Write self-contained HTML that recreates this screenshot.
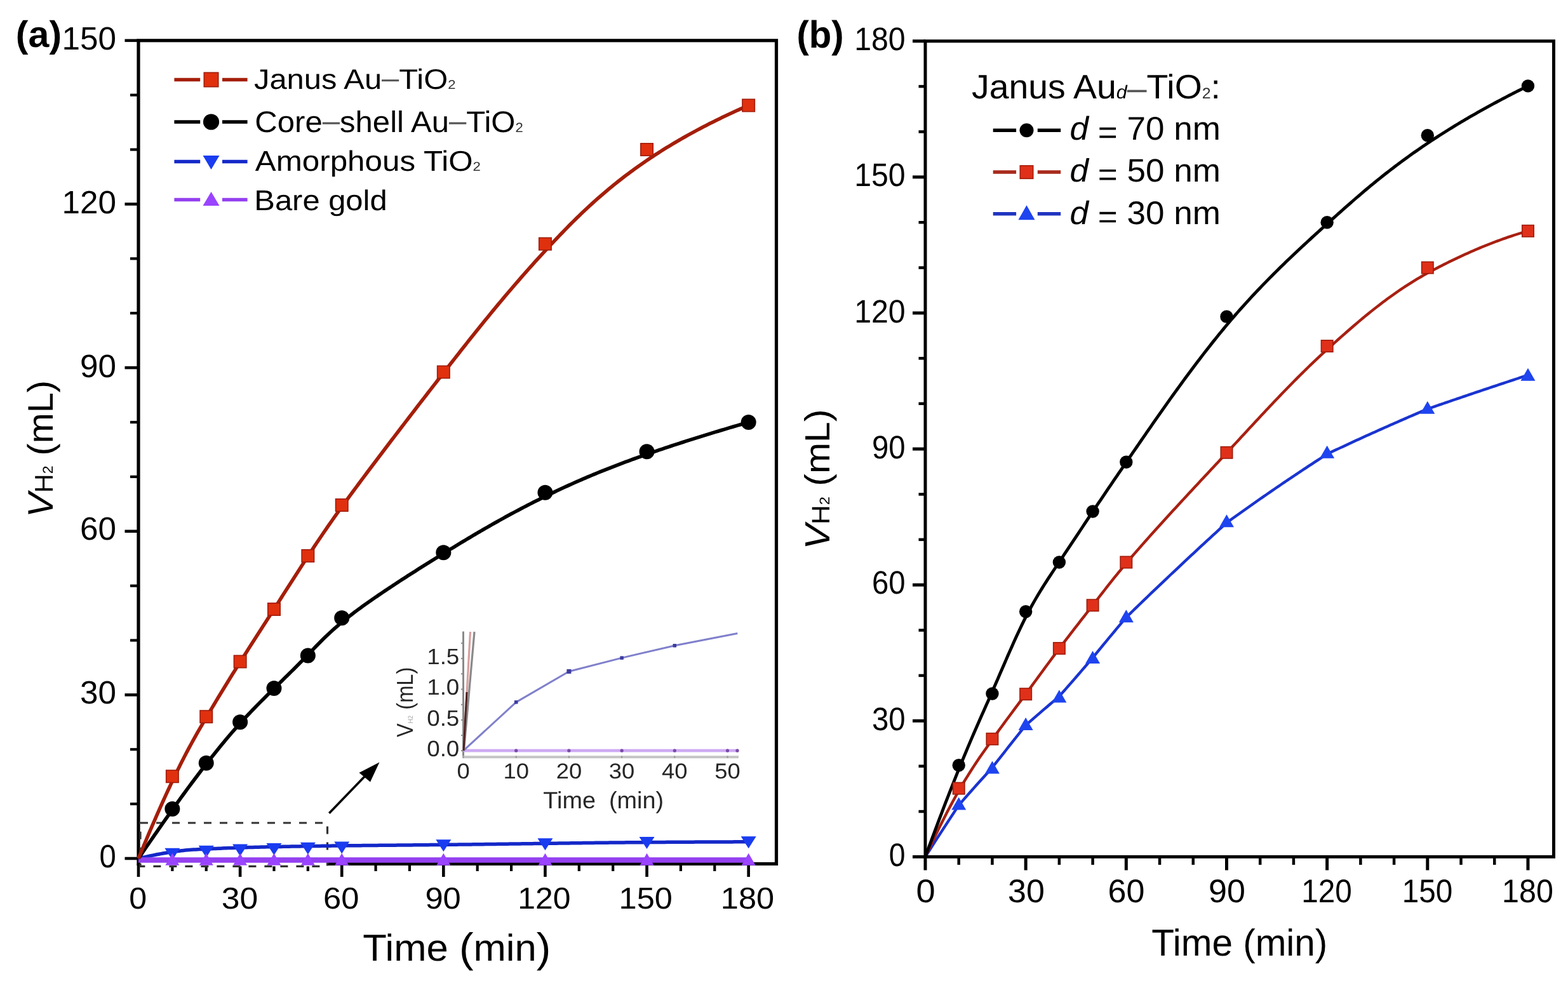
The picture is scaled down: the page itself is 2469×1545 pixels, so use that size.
<!DOCTYPE html>
<html><head><meta charset="utf-8"><title>Hydrogen evolution: Janus Au-TiO2</title>
<style>
html,body{margin:0;padding:0;background:#fff;}
body{width:2469px;height:1545px;overflow:hidden;}
svg{display:block;font-family:'Liberation Sans', Arial, Helvetica, sans-serif;text-rendering:geometricPrecision;}
</style></head><body>
<svg width="2469" height="1545" viewBox="0 0 2469 1545">
<rect width="100%" height="100%" fill="#fff"/>
<rect x="218" y="63.8" width="1004.5" height="1296.7" fill="none" stroke="#000" stroke-width="5.2"/>
<line x1="196.5" y1="1352" x2="218" y2="1352" stroke="#000" stroke-width="4.6"/>
<line x1="205" y1="1266.12" x2="218" y2="1266.12" stroke="#000" stroke-width="4.2"/>
<line x1="205" y1="1180.24" x2="218" y2="1180.24" stroke="#000" stroke-width="4.2"/>
<line x1="196.5" y1="1094.36" x2="218" y2="1094.36" stroke="#000" stroke-width="4.6"/>
<line x1="205" y1="1008.48" x2="218" y2="1008.48" stroke="#000" stroke-width="4.2"/>
<line x1="205" y1="922.6" x2="218" y2="922.6" stroke="#000" stroke-width="4.2"/>
<line x1="196.5" y1="836.72" x2="218" y2="836.72" stroke="#000" stroke-width="4.6"/>
<line x1="205" y1="750.84" x2="218" y2="750.84" stroke="#000" stroke-width="4.2"/>
<line x1="205" y1="664.96" x2="218" y2="664.96" stroke="#000" stroke-width="4.2"/>
<line x1="196.5" y1="579.08" x2="218" y2="579.08" stroke="#000" stroke-width="4.6"/>
<line x1="205" y1="493.2" x2="218" y2="493.2" stroke="#000" stroke-width="4.2"/>
<line x1="205" y1="407.32" x2="218" y2="407.32" stroke="#000" stroke-width="4.2"/>
<line x1="196.5" y1="321.44" x2="218" y2="321.44" stroke="#000" stroke-width="4.6"/>
<line x1="205" y1="235.56" x2="218" y2="235.56" stroke="#000" stroke-width="4.2"/>
<line x1="205" y1="149.68" x2="218" y2="149.68" stroke="#000" stroke-width="4.2"/>
<line x1="196.5" y1="63.8" x2="218" y2="63.8" stroke="#000" stroke-width="4.6"/>
<line x1="218" y1="1360.5" x2="218" y2="1381" stroke="#000" stroke-width="4.6"/>
<line x1="271.37" y1="1360.5" x2="271.37" y2="1372" stroke="#000" stroke-width="4.2"/>
<line x1="324.74" y1="1360.5" x2="324.74" y2="1372" stroke="#000" stroke-width="4.2"/>
<line x1="378.11" y1="1360.5" x2="378.11" y2="1381" stroke="#000" stroke-width="4.6"/>
<line x1="431.48" y1="1360.5" x2="431.48" y2="1372" stroke="#000" stroke-width="4.2"/>
<line x1="484.85" y1="1360.5" x2="484.85" y2="1372" stroke="#000" stroke-width="4.2"/>
<line x1="538.22" y1="1360.5" x2="538.22" y2="1381" stroke="#000" stroke-width="4.6"/>
<line x1="591.59" y1="1360.5" x2="591.59" y2="1372" stroke="#000" stroke-width="4.2"/>
<line x1="644.96" y1="1360.5" x2="644.96" y2="1372" stroke="#000" stroke-width="4.2"/>
<line x1="698.33" y1="1360.5" x2="698.33" y2="1381" stroke="#000" stroke-width="4.6"/>
<line x1="751.7" y1="1360.5" x2="751.7" y2="1372" stroke="#000" stroke-width="4.2"/>
<line x1="805.07" y1="1360.5" x2="805.07" y2="1372" stroke="#000" stroke-width="4.2"/>
<line x1="858.44" y1="1360.5" x2="858.44" y2="1381" stroke="#000" stroke-width="4.6"/>
<line x1="911.81" y1="1360.5" x2="911.81" y2="1372" stroke="#000" stroke-width="4.2"/>
<line x1="965.18" y1="1360.5" x2="965.18" y2="1372" stroke="#000" stroke-width="4.2"/>
<line x1="1018.55" y1="1360.5" x2="1018.55" y2="1381" stroke="#000" stroke-width="4.6"/>
<line x1="1071.92" y1="1360.5" x2="1071.92" y2="1372" stroke="#000" stroke-width="4.2"/>
<line x1="1125.29" y1="1360.5" x2="1125.29" y2="1372" stroke="#000" stroke-width="4.2"/>
<line x1="1178.66" y1="1360.5" x2="1178.66" y2="1381" stroke="#000" stroke-width="4.6"/>
<rect x="221" y="1296" width="294.5" height="68.4" fill="#fff" stroke="#333" stroke-width="3.2" stroke-dasharray="12 13"/>
<path d="M218,1352 L221.21,1351.26 L224.43,1350.53 L227.64,1349.81 L230.85,1349.1 L234.06,1348.41 L237.28,1347.73 L240.49,1347.07 L243.7,1346.43 L246.92,1345.8 L250.13,1345.18 L253.34,1344.59 L256.55,1344.01 L259.77,1343.46 L262.98,1342.92 L266.19,1342.4 L269.41,1341.91 L272.62,1341.43 L275.83,1340.98 L279.05,1340.56 L282.26,1340.16 L285.47,1339.78 L288.68,1339.43 L291.9,1339.11 L295.11,1338.81 L298.32,1338.54 L301.54,1338.3 L304.75,1338.07 L307.96,1337.88 L311.17,1337.7 L314.39,1337.53 L317.6,1337.38 L320.81,1337.23 L324.03,1337.09 L327.24,1336.95 L330.45,1336.81 L333.66,1336.67 L336.88,1336.53 L340.09,1336.39 L343.3,1336.26 L346.52,1336.13 L349.73,1336 L352.94,1335.87 L356.16,1335.74 L359.37,1335.62 L362.58,1335.5 L365.79,1335.39 L369.01,1335.27 L372.22,1335.16 L375.43,1335.05 L378.65,1334.95 L381.86,1334.85 L385.07,1334.75 L388.28,1334.65 L391.5,1334.56 L394.71,1334.47 L397.92,1334.39 L401.14,1334.3 L404.35,1334.22 L407.56,1334.14 L410.77,1334.06 L413.99,1333.98 L417.2,1333.91 L420.41,1333.84 L423.63,1333.77 L426.84,1333.7 L430.05,1333.64 L433.26,1333.57 L436.48,1333.51 L439.69,1333.45 L442.9,1333.39 L446.12,1333.33 L449.33,1333.27 L452.54,1333.21 L455.76,1333.16 L458.97,1333.1 L462.18,1333.05 L465.39,1332.99 L468.61,1332.94 L471.82,1332.89 L475.03,1332.84 L478.25,1332.78 L481.46,1332.73 L484.67,1332.68 L487.88,1332.63 L491.1,1332.58 L494.31,1332.53 L497.52,1332.48 L500.74,1332.43 L503.95,1332.38 L507.16,1332.33 L510.37,1332.29 L513.59,1332.24 L516.8,1332.2 L520.01,1332.16 L523.23,1332.11 L526.44,1332.07 L529.65,1332.04 L532.87,1332 L536.08,1331.96 L539.29,1331.92 L542.5,1331.89 L545.72,1331.85 L548.93,1331.82 L552.14,1331.79 L555.36,1331.75 L558.57,1331.72 L561.78,1331.69 L564.99,1331.66 L568.21,1331.63 L571.42,1331.6 L574.63,1331.57 L577.85,1331.54 L581.06,1331.51 L584.27,1331.48 L587.48,1331.45 L590.7,1331.42 L593.91,1331.39 L597.12,1331.36 L600.34,1331.33 L603.55,1331.3 L606.76,1331.27 L609.97,1331.24 L613.19,1331.21 L616.4,1331.18 L619.61,1331.16 L622.83,1331.13 L626.04,1331.1 L629.25,1331.07 L632.47,1331.04 L635.68,1331.01 L638.89,1330.98 L642.1,1330.95 L645.32,1330.92 L648.53,1330.89 L651.74,1330.86 L654.96,1330.83 L658.17,1330.79 L661.38,1330.76 L664.59,1330.73 L667.81,1330.7 L671.02,1330.67 L674.23,1330.64 L677.45,1330.6 L680.66,1330.57 L683.87,1330.54 L687.08,1330.51 L690.3,1330.47 L693.51,1330.44 L696.72,1330.4 L699.94,1330.37 L703.15,1330.33 L706.36,1330.3 L709.58,1330.26 L712.79,1330.23 L716,1330.19 L719.21,1330.16 L722.43,1330.12 L725.64,1330.08 L728.85,1330.04 L732.07,1330.01 L735.28,1329.97 L738.49,1329.93 L741.7,1329.89 L744.92,1329.85 L748.13,1329.81 L751.34,1329.78 L754.56,1329.74 L757.77,1329.7 L760.98,1329.66 L764.19,1329.62 L767.41,1329.58 L770.62,1329.54 L773.83,1329.5 L777.05,1329.45 L780.26,1329.41 L783.47,1329.37 L786.69,1329.33 L789.9,1329.29 L793.11,1329.25 L796.32,1329.21 L799.54,1329.16 L802.75,1329.12 L805.96,1329.08 L809.18,1329.04 L812.39,1329 L815.6,1328.95 L818.81,1328.91 L822.03,1328.87 L825.24,1328.83 L828.45,1328.78 L831.67,1328.74 L834.88,1328.7 L838.09,1328.66 L841.3,1328.61 L844.52,1328.57 L847.73,1328.53 L850.94,1328.48 L854.16,1328.44 L857.37,1328.4 L860.58,1328.35 L863.79,1328.31 L867.01,1328.27 L870.22,1328.23 L873.43,1328.18 L876.65,1328.14 L879.86,1328.1 L883.07,1328.05 L886.29,1328.01 L889.5,1327.97 L892.71,1327.93 L895.92,1327.88 L899.14,1327.84 L902.35,1327.8 L905.56,1327.76 L908.78,1327.72 L911.99,1327.68 L915.2,1327.64 L918.41,1327.6 L921.63,1327.56 L924.84,1327.52 L928.05,1327.48 L931.27,1327.44 L934.48,1327.4 L937.69,1327.37 L940.9,1327.33 L944.12,1327.29 L947.33,1327.26 L950.54,1327.22 L953.76,1327.19 L956.97,1327.16 L960.18,1327.12 L963.4,1327.09 L966.61,1327.06 L969.82,1327.02 L973.03,1326.99 L976.25,1326.96 L979.46,1326.93 L982.67,1326.9 L985.89,1326.87 L989.1,1326.84 L992.31,1326.81 L995.52,1326.78 L998.74,1326.76 L1001.95,1326.73 L1005.16,1326.7 L1008.38,1326.68 L1011.59,1326.65 L1014.8,1326.62 L1018.01,1326.6 L1021.23,1326.57 L1024.44,1326.55 L1027.65,1326.53 L1030.87,1326.5 L1034.08,1326.48 L1037.29,1326.46 L1040.5,1326.44 L1043.72,1326.41 L1046.93,1326.39 L1050.14,1326.37 L1053.36,1326.35 L1056.57,1326.33 L1059.78,1326.31 L1063,1326.29 L1066.21,1326.27 L1069.42,1326.25 L1072.63,1326.24 L1075.85,1326.22 L1079.06,1326.2 L1082.27,1326.18 L1085.49,1326.17 L1088.7,1326.15 L1091.91,1326.13 L1095.12,1326.12 L1098.34,1326.1 L1101.55,1326.09 L1104.76,1326.07 L1107.98,1326.06 L1111.19,1326.04 L1114.4,1326.03 L1117.61,1326.02 L1120.83,1326 L1124.04,1325.99 L1127.25,1325.98 L1130.47,1325.96 L1133.68,1325.95 L1136.89,1325.94 L1140.11,1325.93 L1143.32,1325.92 L1146.53,1325.9 L1149.74,1325.89 L1152.96,1325.88 L1156.17,1325.87 L1159.38,1325.86 L1162.6,1325.85 L1165.81,1325.84 L1169.02,1325.83 L1172.23,1325.82 L1175.45,1325.82 L1178.66,1325.81" fill="none" stroke="#1428c8" stroke-width="5.5" stroke-linejoin="round"/>
<polygon points="259.37,1335.8 283.37,1335.8 271.37,1354.8" fill="#1a3cf0"/>
<polygon points="312.74,1331.68 336.74,1331.68 324.74,1350.68" fill="#1a3cf0"/>
<polygon points="366.11,1329.62 390.11,1329.62 378.11,1348.62" fill="#1a3cf0"/>
<polygon points="419.48,1327.9 443.48,1327.9 431.48,1346.9" fill="#1a3cf0"/>
<polygon points="472.85,1326.87 496.85,1326.87 484.85,1345.87" fill="#1a3cf0"/>
<polygon points="526.22,1325.5 550.22,1325.5 538.22,1344.5" fill="#1a3cf0"/>
<polygon points="686.33,1322.32 710.33,1322.32 698.33,1341.32" fill="#1a3cf0"/>
<polygon points="846.44,1320.17 870.44,1320.17 858.44,1339.17" fill="#1a3cf0"/>
<polygon points="1006.55,1318.02 1030.55,1318.02 1018.55,1337.02" fill="#1a3cf0"/>
<polygon points="1166.66,1317.17 1190.66,1317.17 1178.66,1336.17" fill="#1a3cf0"/>
<path d="M218,1354.58 L221.21,1354.58 L224.43,1354.58 L227.64,1354.58 L230.85,1354.58 L234.06,1354.58 L237.28,1354.58 L240.49,1354.58 L243.7,1354.58 L246.92,1354.58 L250.13,1354.58 L253.34,1354.58 L256.55,1354.58 L259.77,1354.58 L262.98,1354.58 L266.19,1354.58 L269.41,1354.58 L272.62,1354.58 L275.83,1354.58 L279.05,1354.58 L282.26,1354.58 L285.47,1354.58 L288.68,1354.58 L291.9,1354.58 L295.11,1354.58 L298.32,1354.58 L301.54,1354.58 L304.75,1354.58 L307.96,1354.58 L311.17,1354.58 L314.39,1354.58 L317.6,1354.58 L320.81,1354.58 L324.03,1354.58 L327.24,1354.58 L330.45,1354.58 L333.66,1354.58 L336.88,1354.58 L340.09,1354.58 L343.3,1354.58 L346.52,1354.58 L349.73,1354.58 L352.94,1354.58 L356.16,1354.58 L359.37,1354.58 L362.58,1354.58 L365.79,1354.58 L369.01,1354.58 L372.22,1354.58 L375.43,1354.58 L378.65,1354.58 L381.86,1354.58 L385.07,1354.58 L388.28,1354.58 L391.5,1354.58 L394.71,1354.58 L397.92,1354.58 L401.14,1354.58 L404.35,1354.58 L407.56,1354.58 L410.77,1354.58 L413.99,1354.58 L417.2,1354.58 L420.41,1354.58 L423.63,1354.58 L426.84,1354.58 L430.05,1354.58 L433.26,1354.58 L436.48,1354.58 L439.69,1354.58 L442.9,1354.58 L446.12,1354.58 L449.33,1354.58 L452.54,1354.58 L455.76,1354.58 L458.97,1354.58 L462.18,1354.58 L465.39,1354.58 L468.61,1354.58 L471.82,1354.58 L475.03,1354.58 L478.25,1354.58 L481.46,1354.58 L484.67,1354.58 L487.88,1354.58 L491.1,1354.58 L494.31,1354.58 L497.52,1354.58 L500.74,1354.58 L503.95,1354.58 L507.16,1354.58 L510.37,1354.58 L513.59,1354.58 L516.8,1354.58 L520.01,1354.58 L523.23,1354.58 L526.44,1354.58 L529.65,1354.58 L532.87,1354.58 L536.08,1354.58 L539.29,1354.58 L542.5,1354.58 L545.72,1354.58 L548.93,1354.58 L552.14,1354.58 L555.36,1354.58 L558.57,1354.58 L561.78,1354.58 L564.99,1354.58 L568.21,1354.58 L571.42,1354.58 L574.63,1354.58 L577.85,1354.58 L581.06,1354.58 L584.27,1354.58 L587.48,1354.58 L590.7,1354.58 L593.91,1354.58 L597.12,1354.58 L600.34,1354.58 L603.55,1354.58 L606.76,1354.58 L609.97,1354.58 L613.19,1354.58 L616.4,1354.58 L619.61,1354.58 L622.83,1354.58 L626.04,1354.58 L629.25,1354.58 L632.47,1354.58 L635.68,1354.58 L638.89,1354.58 L642.1,1354.58 L645.32,1354.58 L648.53,1354.58 L651.74,1354.58 L654.96,1354.58 L658.17,1354.58 L661.38,1354.58 L664.59,1354.58 L667.81,1354.58 L671.02,1354.58 L674.23,1354.58 L677.45,1354.58 L680.66,1354.58 L683.87,1354.58 L687.08,1354.58 L690.3,1354.58 L693.51,1354.58 L696.72,1354.58 L699.94,1354.58 L703.15,1354.58 L706.36,1354.58 L709.58,1354.58 L712.79,1354.58 L716,1354.58 L719.21,1354.58 L722.43,1354.58 L725.64,1354.58 L728.85,1354.58 L732.07,1354.58 L735.28,1354.58 L738.49,1354.58 L741.7,1354.58 L744.92,1354.58 L748.13,1354.58 L751.34,1354.58 L754.56,1354.58 L757.77,1354.58 L760.98,1354.58 L764.19,1354.58 L767.41,1354.58 L770.62,1354.58 L773.83,1354.58 L777.05,1354.58 L780.26,1354.58 L783.47,1354.58 L786.69,1354.58 L789.9,1354.58 L793.11,1354.58 L796.32,1354.58 L799.54,1354.58 L802.75,1354.58 L805.96,1354.58 L809.18,1354.58 L812.39,1354.58 L815.6,1354.58 L818.81,1354.58 L822.03,1354.58 L825.24,1354.58 L828.45,1354.58 L831.67,1354.58 L834.88,1354.58 L838.09,1354.58 L841.3,1354.58 L844.52,1354.58 L847.73,1354.58 L850.94,1354.58 L854.16,1354.58 L857.37,1354.58 L860.58,1354.58 L863.79,1354.58 L867.01,1354.58 L870.22,1354.58 L873.43,1354.58 L876.65,1354.58 L879.86,1354.58 L883.07,1354.58 L886.29,1354.58 L889.5,1354.58 L892.71,1354.58 L895.92,1354.58 L899.14,1354.58 L902.35,1354.58 L905.56,1354.58 L908.78,1354.58 L911.99,1354.58 L915.2,1354.58 L918.41,1354.58 L921.63,1354.58 L924.84,1354.58 L928.05,1354.58 L931.27,1354.58 L934.48,1354.58 L937.69,1354.58 L940.9,1354.58 L944.12,1354.58 L947.33,1354.58 L950.54,1354.58 L953.76,1354.58 L956.97,1354.58 L960.18,1354.58 L963.4,1354.58 L966.61,1354.58 L969.82,1354.58 L973.03,1354.58 L976.25,1354.58 L979.46,1354.58 L982.67,1354.58 L985.89,1354.58 L989.1,1354.58 L992.31,1354.58 L995.52,1354.58 L998.74,1354.58 L1001.95,1354.58 L1005.16,1354.58 L1008.38,1354.58 L1011.59,1354.58 L1014.8,1354.58 L1018.01,1354.58 L1021.23,1354.58 L1024.44,1354.58 L1027.65,1354.58 L1030.87,1354.58 L1034.08,1354.58 L1037.29,1354.58 L1040.5,1354.58 L1043.72,1354.58 L1046.93,1354.58 L1050.14,1354.58 L1053.36,1354.58 L1056.57,1354.58 L1059.78,1354.58 L1063,1354.58 L1066.21,1354.58 L1069.42,1354.58 L1072.63,1354.58 L1075.85,1354.58 L1079.06,1354.58 L1082.27,1354.58 L1085.49,1354.58 L1088.7,1354.58 L1091.91,1354.58 L1095.12,1354.58 L1098.34,1354.58 L1101.55,1354.58 L1104.76,1354.58 L1107.98,1354.58 L1111.19,1354.58 L1114.4,1354.58 L1117.61,1354.58 L1120.83,1354.58 L1124.04,1354.58 L1127.25,1354.58 L1130.47,1354.58 L1133.68,1354.58 L1136.89,1354.58 L1140.11,1354.58 L1143.32,1354.58 L1146.53,1354.58 L1149.74,1354.58 L1152.96,1354.58 L1156.17,1354.58 L1159.38,1354.58 L1162.6,1354.58 L1165.81,1354.58 L1169.02,1354.58 L1172.23,1354.58 L1175.45,1354.58 L1178.66,1354.58" fill="none" stroke="#9440f0" stroke-width="8.5" stroke-linejoin="round"/>
<polygon points="260.37,1362.7 282.37,1362.7 271.37,1343.7" fill="#9a44ff"/>
<polygon points="313.74,1362.7 335.74,1362.7 324.74,1343.7" fill="#9a44ff"/>
<polygon points="367.11,1362.7 389.11,1362.7 378.11,1343.7" fill="#9a44ff"/>
<polygon points="420.48,1362.7 442.48,1362.7 431.48,1343.7" fill="#9a44ff"/>
<polygon points="473.85,1362.7 495.85,1362.7 484.85,1343.7" fill="#9a44ff"/>
<polygon points="527.22,1362.7 549.22,1362.7 538.22,1343.7" fill="#9a44ff"/>
<polygon points="687.33,1362.7 709.33,1362.7 698.33,1343.7" fill="#9a44ff"/>
<polygon points="847.44,1362.7 869.44,1362.7 858.44,1343.7" fill="#9a44ff"/>
<polygon points="1007.55,1362.7 1029.55,1362.7 1018.55,1343.7" fill="#9a44ff"/>
<polygon points="1167.66,1362.7 1189.66,1362.7 1178.66,1343.7" fill="#9a44ff"/>
<path d="M218,1352 L221.21,1347.31 L224.43,1342.63 L227.64,1337.95 L230.85,1333.28 L234.06,1328.62 L237.28,1323.97 L240.49,1319.33 L243.7,1314.69 L246.92,1310.07 L250.13,1305.46 L253.34,1300.86 L256.55,1296.27 L259.77,1291.7 L262.98,1287.14 L266.19,1282.59 L269.41,1278.06 L272.62,1273.54 L275.83,1269.04 L279.05,1264.56 L282.26,1260.1 L285.47,1255.65 L288.68,1251.23 L291.9,1246.83 L295.11,1242.46 L298.32,1238.11 L301.54,1233.78 L304.75,1229.48 L307.96,1225.21 L311.17,1220.96 L314.39,1216.74 L317.6,1212.55 L320.81,1208.38 L324.03,1204.23 L327.24,1200.11 L330.45,1196.01 L333.66,1191.94 L336.88,1187.89 L340.09,1183.88 L343.3,1179.9 L346.52,1175.95 L349.73,1172.04 L352.94,1168.16 L356.16,1164.32 L359.37,1160.52 L362.58,1156.76 L365.79,1153.04 L369.01,1149.36 L372.22,1145.72 L375.43,1142.13 L378.65,1138.57 L381.86,1135.06 L385.07,1131.58 L388.28,1128.14 L391.5,1124.73 L394.71,1121.36 L397.92,1118.01 L401.14,1114.69 L404.35,1111.4 L407.56,1108.13 L410.77,1104.89 L413.99,1101.66 L417.2,1098.45 L420.41,1095.25 L423.63,1092.07 L426.84,1088.9 L430.05,1085.74 L433.26,1082.59 L436.48,1079.44 L439.69,1076.3 L442.9,1073.15 L446.12,1070.01 L449.33,1066.86 L452.54,1063.7 L455.76,1060.54 L458.97,1057.37 L462.18,1054.19 L465.39,1050.99 L468.61,1047.78 L471.82,1044.55 L475.03,1041.31 L478.25,1038.04 L481.46,1034.74 L484.67,1031.42 L487.88,1028.08 L491.1,1024.72 L494.31,1021.37 L497.52,1018.03 L500.74,1014.73 L503.95,1011.47 L507.16,1008.25 L510.37,1005.09 L513.59,1001.99 L516.8,998.94 L520.01,995.96 L523.23,993.03 L526.44,990.16 L529.65,987.34 L532.87,984.57 L536.08,981.86 L539.29,979.19 L542.5,976.56 L545.72,973.98 L548.93,971.44 L552.14,968.93 L555.36,966.47 L558.57,964.03 L561.78,961.63 L564.99,959.26 L568.21,956.91 L571.42,954.58 L574.63,952.28 L577.85,950 L581.06,947.73 L584.27,945.48 L587.48,943.25 L590.7,941.03 L593.91,938.82 L597.12,936.63 L600.34,934.45 L603.55,932.28 L606.76,930.12 L609.97,927.97 L613.19,925.84 L616.4,923.71 L619.61,921.59 L622.83,919.48 L626.04,917.38 L629.25,915.28 L632.47,913.19 L635.68,911.11 L638.89,909.04 L642.1,906.97 L645.32,904.91 L648.53,902.86 L651.74,900.81 L654.96,898.77 L658.17,896.73 L661.38,894.7 L664.59,892.67 L667.81,890.65 L671.02,888.63 L674.23,886.61 L677.45,884.6 L680.66,882.6 L683.87,880.6 L687.08,878.6 L690.3,876.61 L693.51,874.62 L696.72,872.64 L699.94,870.65 L703.15,868.68 L706.36,866.7 L709.58,864.73 L712.79,862.77 L716,860.81 L719.21,858.85 L722.43,856.9 L725.64,854.95 L728.85,853.02 L732.07,851.08 L735.28,849.16 L738.49,847.24 L741.7,845.33 L744.92,843.42 L748.13,841.52 L751.34,839.63 L754.56,837.75 L757.77,835.88 L760.98,834.01 L764.19,832.15 L767.41,830.31 L770.62,828.46 L773.83,826.63 L777.05,824.81 L780.26,823 L783.47,821.19 L786.69,819.4 L789.9,817.61 L793.11,815.84 L796.32,814.07 L799.54,812.31 L802.75,810.57 L805.96,808.83 L809.18,807.1 L812.39,805.38 L815.6,803.67 L818.81,801.98 L822.03,800.29 L825.24,798.61 L828.45,796.94 L831.67,795.28 L834.88,793.63 L838.09,791.99 L841.3,790.36 L844.52,788.74 L847.73,787.13 L850.94,785.53 L854.16,783.94 L857.37,782.36 L860.58,780.79 L863.79,779.23 L867.01,777.68 L870.22,776.13 L873.43,774.6 L876.65,773.08 L879.86,771.56 L883.07,770.06 L886.29,768.56 L889.5,767.08 L892.71,765.6 L895.92,764.14 L899.14,762.69 L902.35,761.24 L905.56,759.81 L908.78,758.39 L911.99,756.98 L915.2,755.58 L918.41,754.19 L921.63,752.81 L924.84,751.44 L928.05,750.08 L931.27,748.73 L934.48,747.39 L937.69,746.06 L940.9,744.74 L944.12,743.43 L947.33,742.13 L950.54,740.84 L953.76,739.56 L956.97,738.29 L960.18,737.03 L963.4,735.77 L966.61,734.52 L969.82,733.29 L973.03,732.06 L976.25,730.84 L979.46,729.62 L982.67,728.42 L985.89,727.22 L989.1,726.03 L992.31,724.84 L995.52,723.67 L998.74,722.5 L1001.95,721.34 L1005.16,720.18 L1008.38,719.03 L1011.59,717.89 L1014.8,716.76 L1018.01,715.63 L1021.23,714.5 L1024.44,713.39 L1027.65,712.27 L1030.87,711.17 L1034.08,710.07 L1037.29,708.97 L1040.5,707.89 L1043.72,706.8 L1046.93,705.72 L1050.14,704.65 L1053.36,703.58 L1056.57,702.52 L1059.78,701.46 L1063,700.41 L1066.21,699.36 L1069.42,698.31 L1072.63,697.27 L1075.85,696.24 L1079.06,695.2 L1082.27,694.18 L1085.49,693.15 L1088.7,692.13 L1091.91,691.12 L1095.12,690.11 L1098.34,689.1 L1101.55,688.09 L1104.76,687.09 L1107.98,686.1 L1111.19,685.1 L1114.4,684.11 L1117.61,683.13 L1120.83,682.14 L1124.04,681.17 L1127.25,680.19 L1130.47,679.22 L1133.68,678.25 L1136.89,677.28 L1140.11,676.31 L1143.32,675.35 L1146.53,674.39 L1149.74,673.44 L1152.96,672.49 L1156.17,671.54 L1159.38,670.59 L1162.6,669.64 L1165.81,668.7 L1169.02,667.76 L1172.23,666.83 L1175.45,665.89 L1178.66,664.96" fill="none" stroke="#000" stroke-width="5.6" stroke-linejoin="round"/>
<path d="M218,1352 L221.21,1344.24 L224.43,1336.53 L227.64,1328.86 L230.85,1321.24 L234.06,1313.66 L237.28,1306.14 L240.49,1298.68 L243.7,1291.27 L246.92,1283.92 L250.13,1276.63 L253.34,1269.4 L256.55,1262.25 L259.77,1255.16 L262.98,1248.14 L266.19,1241.2 L269.41,1234.34 L272.62,1227.56 L275.83,1220.87 L279.05,1214.26 L282.26,1207.75 L285.47,1201.33 L288.68,1195.01 L291.9,1188.79 L295.11,1182.67 L298.32,1176.64 L301.54,1170.72 L304.75,1164.89 L307.96,1159.15 L311.17,1153.49 L314.39,1147.9 L317.6,1142.37 L320.81,1136.88 L324.03,1131.4 L327.24,1125.95 L330.45,1120.53 L333.66,1115.12 L336.88,1109.73 L340.09,1104.37 L343.3,1099.04 L346.52,1093.72 L349.73,1088.43 L352.94,1083.17 L356.16,1077.93 L359.37,1072.71 L362.58,1067.51 L365.79,1062.34 L369.01,1057.19 L372.22,1052.05 L375.43,1046.94 L378.65,1041.84 L381.86,1036.76 L385.07,1031.69 L388.28,1026.63 L391.5,1021.59 L394.71,1016.56 L397.92,1011.53 L401.14,1006.51 L404.35,1001.5 L407.56,996.49 L410.77,991.49 L413.99,986.49 L417.2,981.49 L420.41,976.49 L423.63,971.49 L426.84,966.48 L430.05,961.47 L433.26,956.46 L436.48,951.43 L439.69,946.41 L442.9,941.38 L446.12,936.35 L449.33,931.32 L452.54,926.29 L455.76,921.27 L458.97,916.25 L462.18,911.23 L465.39,906.22 L468.61,901.21 L471.82,896.22 L475.03,891.23 L478.25,886.26 L481.46,881.3 L484.67,876.36 L487.88,871.43 L491.1,866.52 L494.31,861.64 L497.52,856.79 L500.74,851.97 L503.95,847.19 L507.16,842.45 L510.37,837.74 L513.59,833.07 L516.8,828.43 L520.01,823.82 L523.23,819.25 L526.44,814.7 L529.65,810.18 L532.87,805.68 L536.08,801.21 L539.29,796.76 L542.5,792.33 L545.72,787.91 L548.93,783.52 L552.14,779.14 L555.36,774.77 L558.57,770.42 L561.78,766.08 L564.99,761.75 L568.21,757.44 L571.42,753.13 L574.63,748.83 L577.85,744.54 L581.06,740.26 L584.27,735.98 L587.48,731.71 L590.7,727.45 L593.91,723.2 L597.12,718.95 L600.34,714.7 L603.55,710.46 L606.76,706.23 L609.97,702 L613.19,697.78 L616.4,693.56 L619.61,689.34 L622.83,685.13 L626.04,680.93 L629.25,676.73 L632.47,672.53 L635.68,668.33 L638.89,664.14 L642.1,659.96 L645.32,655.77 L648.53,651.59 L651.74,647.42 L654.96,643.25 L658.17,639.08 L661.38,634.91 L664.59,630.75 L667.81,626.59 L671.02,622.43 L674.23,618.28 L677.45,614.13 L680.66,609.99 L683.87,605.84 L687.08,601.7 L690.3,597.57 L693.51,593.43 L696.72,589.3 L699.94,585.18 L703.15,581.05 L706.36,576.93 L709.58,572.82 L712.79,568.71 L716,564.6 L719.21,560.5 L722.43,556.41 L725.64,552.33 L728.85,548.25 L732.07,544.19 L735.28,540.13 L738.49,536.08 L741.7,532.04 L744.92,528.01 L748.13,523.99 L751.34,519.99 L754.56,515.99 L757.77,512.01 L760.98,508.04 L764.19,504.09 L767.41,500.15 L770.62,496.22 L773.83,492.3 L777.05,488.4 L780.26,484.51 L783.47,480.64 L786.69,476.79 L789.9,472.95 L793.11,469.12 L796.32,465.31 L799.54,461.52 L802.75,457.74 L805.96,453.98 L809.18,450.24 L812.39,446.51 L815.6,442.8 L818.81,439.1 L822.03,435.42 L825.24,431.76 L828.45,428.12 L831.67,424.49 L834.88,420.88 L838.09,417.29 L841.3,413.71 L844.52,410.15 L847.73,406.61 L850.94,403.09 L854.16,399.58 L857.37,396.08 L860.58,392.61 L863.79,389.15 L867.01,385.71 L870.22,382.28 L873.43,378.88 L876.65,375.49 L879.86,372.11 L883.07,368.76 L886.29,365.43 L889.5,362.12 L892.71,358.84 L895.92,355.58 L899.14,352.35 L902.35,349.14 L905.56,345.96 L908.78,342.81 L911.99,339.69 L915.2,336.6 L918.41,333.53 L921.63,330.5 L924.84,327.5 L928.05,324.52 L931.27,321.58 L934.48,318.67 L937.69,315.79 L940.9,312.93 L944.12,310.11 L947.33,307.32 L950.54,304.56 L953.76,301.83 L956.97,299.13 L960.18,296.45 L963.4,293.81 L966.61,291.2 L969.82,288.61 L973.03,286.05 L976.25,283.52 L979.46,281.02 L982.67,278.55 L985.89,276.1 L989.1,273.68 L992.31,271.28 L995.52,268.91 L998.74,266.57 L1001.95,264.25 L1005.16,261.96 L1008.38,259.69 L1011.59,257.44 L1014.8,255.22 L1018.01,253.02 L1021.23,250.85 L1024.44,248.69 L1027.65,246.56 L1030.87,244.45 L1034.08,242.37 L1037.29,240.3 L1040.5,238.26 L1043.72,236.23 L1046.93,234.23 L1050.14,232.24 L1053.36,230.28 L1056.57,228.33 L1059.78,226.4 L1063,224.49 L1066.21,222.6 L1069.42,220.73 L1072.63,218.88 L1075.85,217.04 L1079.06,215.22 L1082.27,213.41 L1085.49,211.63 L1088.7,209.86 L1091.91,208.1 L1095.12,206.36 L1098.34,204.64 L1101.55,202.93 L1104.76,201.24 L1107.98,199.56 L1111.19,197.9 L1114.4,196.25 L1117.61,194.62 L1120.83,193 L1124.04,191.39 L1127.25,189.8 L1130.47,188.22 L1133.68,186.65 L1136.89,185.1 L1140.11,183.56 L1143.32,182.03 L1146.53,180.51 L1149.74,179.01 L1152.96,177.52 L1156.17,176.04 L1159.38,174.57 L1162.6,173.11 L1165.81,171.67 L1169.02,170.23 L1172.23,168.81 L1175.45,167.4 L1178.66,166" fill="none" stroke="#a41e0a" stroke-width="5.6" stroke-linejoin="round"/>
<circle cx="271.37" cy="1274.02" r="12" fill="#000"/>
<circle cx="324.74" cy="1201.71" r="12" fill="#000"/>
<circle cx="378.11" cy="1137.3" r="12" fill="#000"/>
<circle cx="431.48" cy="1084.05" r="12" fill="#000"/>
<circle cx="484.85" cy="1032.53" r="12" fill="#000"/>
<circle cx="538.22" cy="973.27" r="12" fill="#000"/>
<circle cx="698.33" cy="870.21" r="12" fill="#000"/>
<circle cx="858.44" cy="775.75" r="12" fill="#000"/>
<circle cx="1018.55" cy="711.34" r="12" fill="#000"/>
<circle cx="1178.66" cy="664.96" r="12" fill="#000"/>
<rect x="261.67" y="1213.05" width="19.4" height="19.4" fill="#e0300e" stroke="#a01c0a" stroke-width="1.6"/>
<rect x="315.04" y="1119.01" width="19.4" height="19.4" fill="#e0300e" stroke="#a01c0a" stroke-width="1.6"/>
<rect x="368.41" y="1032.27" width="19.4" height="19.4" fill="#e0300e" stroke="#a01c0a" stroke-width="1.6"/>
<rect x="421.78" y="949.83" width="19.4" height="19.4" fill="#e0300e" stroke="#a01c0a" stroke-width="1.6"/>
<rect x="475.15" y="865.67" width="19.4" height="19.4" fill="#e0300e" stroke="#a01c0a" stroke-width="1.6"/>
<rect x="528.52" y="785.8" width="19.4" height="19.4" fill="#e0300e" stroke="#a01c0a" stroke-width="1.6"/>
<rect x="688.63" y="576.25" width="19.4" height="19.4" fill="#e0300e" stroke="#a01c0a" stroke-width="1.6"/>
<rect x="848.74" y="374.43" width="19.4" height="19.4" fill="#e0300e" stroke="#a01c0a" stroke-width="1.6"/>
<rect x="1008.85" y="225.86" width="19.4" height="19.4" fill="#e0300e" stroke="#a01c0a" stroke-width="1.6"/>
<rect x="1168.96" y="156.3" width="19.4" height="19.4" fill="#e0300e" stroke="#a01c0a" stroke-width="1.6"/>
<line x1="518.3" y1="1280.8" x2="575" y2="1222" stroke="#000" stroke-width="3.6"/>
<polygon points="597.5,1200.5 565.5,1217 583,1231.5" fill="#000"/>
<text id="ay0" transform="translate(182.85,1366.3) scale(0.9253,1)" font-size="51" text-anchor="end">0</text>
<text id="ay30" transform="translate(183,1108.38) scale(1.0040,1)" font-size="51" text-anchor="end">30</text>
<text id="ay60" transform="translate(183,850.46) scale(1.0039,1)" font-size="51" text-anchor="end">60</text>
<text id="ay90" transform="translate(183,593.54) scale(1.0039,1)" font-size="51" text-anchor="end">90</text>
<text id="ay120" transform="translate(183.02,335.62) scale(1.0050,1)" font-size="51" text-anchor="end">120</text>
<text id="ay150" transform="translate(183.02,77.7) scale(1.0050,1)" font-size="51" text-anchor="end">150</text>
<text id="ax0" transform="translate(217.11,1430.8) scale(1.0518,1)" font-size="47.73" text-anchor="middle">0</text>
<text id="ax30" transform="translate(377.41,1430.8) scale(1.0827,1)" font-size="47.73" text-anchor="middle">30</text>
<text id="ax60" transform="translate(537.25,1430.8) scale(1.0623,1)" font-size="47.73" text-anchor="middle">60</text>
<text id="ax90" transform="translate(697.59,1430.8) scale(1.0623,1)" font-size="47.73" text-anchor="middle">90</text>
<text id="ax120" transform="translate(856.85,1430.8) scale(1.0454,1)" font-size="47.73" text-anchor="middle">120</text>
<text id="ax150" transform="translate(1016.68,1430.8) scale(1.0588,1)" font-size="47.73" text-anchor="middle">150</text>
<text id="ax180" transform="translate(1177.02,1430.8) scale(1.0588,1)" font-size="47.73" text-anchor="middle">180</text>
<text id="atitle" transform="translate(571.14,1512.65) scale(1.0431,1)" font-size="59.08">Time <tspan font-size="1.1em" dy="2.5">(</tspan><tspan dy="-2.5">min</tspan><tspan font-size="1.1em" dy="2.5">)</tspan></text>
<text id="ayt" transform="translate(82.61,814.75) rotate(-90) scale(1.0295,1)" font-size="56.02"><tspan font-style="italic">V</tspan><tspan font-size="0.72em">H</tspan><tspan font-size="0.4em">2</tspan> (mL)</text>
<text id="alab" transform="translate(24.84,73.94) scale(1.0144,1)" font-size="58.27" font-weight="bold">(a)</text>
<line x1="274.4" y1="125.5" x2="315.2" y2="125.5" stroke="#a41e0a" stroke-width="5.5"/>
<line x1="350" y1="125.5" x2="389.6" y2="125.5" stroke="#a41e0a" stroke-width="5.5"/>
<rect x="321.3" y="114.3" width="22.4" height="22.4" fill="#e0300e" stroke="#a01c0a" stroke-width="1.6"/>
<text id="al0" transform="translate(399.98,140.18) scale(1.1001,1)" font-size="44.44">Janus Au<tspan fill="#555" dy="-2">–</tspan><tspan dy="2">TiO</tspan><tspan font-size="0.45em" fill="#333">2</tspan></text>
<line x1="274.4" y1="192" x2="315.2" y2="192" stroke="#000" stroke-width="5.5"/>
<line x1="350" y1="192" x2="389.6" y2="192" stroke="#000" stroke-width="5.5"/>
<circle cx="332.5" cy="192" r="12.6" fill="#000"/>
<text id="al1" transform="translate(401.31,208.2) scale(1.0454,1)" font-size="46.96">Core<tspan fill="#555" dy="-2">–</tspan><tspan dy="2">shell Au</tspan><tspan fill="#555" dy="-2">–</tspan><tspan dy="2">TiO</tspan><tspan font-size="0.45em" fill="#333">2</tspan></text>
<line x1="274.4" y1="254.4" x2="315.2" y2="254.4" stroke="#1428c8" stroke-width="5.5"/>
<line x1="350" y1="254.4" x2="389.6" y2="254.4" stroke="#1428c8" stroke-width="5.5"/>
<polygon points="319.5,244.9 345.5,244.9 332.5,266.9" fill="#1a3cf0"/>
<text id="al2" transform="translate(401.78,268.76) scale(1.0987,1)" font-size="44.91">Amorphous TiO<tspan font-size="0.45em" fill="#333">2</tspan></text>
<line x1="274.4" y1="314.4" x2="315.2" y2="314.4" stroke="#9440f0" stroke-width="5.5"/>
<line x1="350" y1="314.4" x2="389.6" y2="314.4" stroke="#9440f0" stroke-width="5.5"/>
<polygon points="319.5,323.9 345.5,323.9 332.5,301.9" fill="#9a44ff"/>
<text id="al3" transform="translate(400.29,330.74) scale(1.0888,1)" font-size="44.91">Bare gold</text>
<line x1="729.5" y1="994.5" x2="729.5" y2="1194" stroke="#8a8a8a" stroke-width="3"/>
<line x1="728" y1="1192.3" x2="1163" y2="1192.3" stroke="#c4c4c4" stroke-width="4"/>
<line x1="726" y1="1182.3" x2="729.5" y2="1182.3" stroke="#8a8a8a" stroke-width="2"/>
<line x1="726" y1="1158.1" x2="729.5" y2="1158.1" stroke="#8a8a8a" stroke-width="2"/>
<line x1="726" y1="1133.9" x2="729.5" y2="1133.9" stroke="#8a8a8a" stroke-width="2"/>
<line x1="726" y1="1109.7" x2="729.5" y2="1109.7" stroke="#8a8a8a" stroke-width="2"/>
<line x1="726" y1="1085.5" x2="729.5" y2="1085.5" stroke="#8a8a8a" stroke-width="2"/>
<line x1="726" y1="1061.3" x2="729.5" y2="1061.3" stroke="#8a8a8a" stroke-width="2"/>
<line x1="726" y1="1037.1" x2="729.5" y2="1037.1" stroke="#8a8a8a" stroke-width="2"/>
<line x1="726" y1="1012.9" x2="729.5" y2="1012.9" stroke="#8a8a8a" stroke-width="2"/>
<line x1="729.5" y1="1190.5" x2="729.5" y2="1194" stroke="#999" stroke-width="2"/>
<line x1="812.7" y1="1190.5" x2="812.7" y2="1194" stroke="#999" stroke-width="2"/>
<line x1="895.9" y1="1190.5" x2="895.9" y2="1194" stroke="#999" stroke-width="2"/>
<line x1="979.1" y1="1190.5" x2="979.1" y2="1194" stroke="#999" stroke-width="2"/>
<line x1="1062.3" y1="1190.5" x2="1062.3" y2="1194" stroke="#999" stroke-width="2"/>
<line x1="1145.5" y1="1190.5" x2="1145.5" y2="1194" stroke="#999" stroke-width="2"/>
<line x1="729.5" y1="1182.2" x2="1163" y2="1182.2" stroke="#cdaaf3" stroke-width="4.8"/>
<circle cx="812.7" cy="1182.2" r="2.6" fill="#7a4aa8"/>
<circle cx="895.9" cy="1182.2" r="2.6" fill="#7a4aa8"/>
<circle cx="979.1" cy="1182.2" r="2.6" fill="#7a4aa8"/>
<circle cx="1062.3" cy="1182.2" r="2.6" fill="#7a4aa8"/>
<circle cx="1145.5" cy="1182.2" r="2.6" fill="#7a4aa8"/>
<circle cx="1161" cy="1182.2" r="2.6" fill="#7a4aa8"/>
<path d="M729.5,1182.3 L812.7,1105.83 L895.9,1057.43 L979.1,1036.13 L1062.3,1016.77 L1161.31,997.41" fill="none" stroke="#8080cc" stroke-width="3" stroke-linejoin="round"/>
<rect x="809.95" y="1103.08" width="5.5" height="5.5" fill="#3c3ca0"/>
<rect x="892.4" y="1053.93" width="7" height="7" fill="#3c3ca0"/>
<rect x="976.35" y="1033.38" width="5.5" height="5.5" fill="#3c3ca0"/>
<rect x="1059.55" y="1014.02" width="5.5" height="5.5" fill="#3c3ca0"/>
<line x1="730" y1="1182" x2="740.5" y2="995" stroke="#d8a0a0" stroke-width="3.2"/>
<line x1="730.5" y1="1182" x2="747" y2="995" stroke="#8a8a8a" stroke-width="3.2"/>
<line x1="730" y1="1182" x2="735" y2="1090" stroke="#502020" stroke-width="3"/>
<text id="iy15" transform="translate(723.3,1046) scale(1.0500,1)" font-size="35" text-anchor="end" fill="#262626">1.5</text>
<text id="iy10" transform="translate(723.3,1094.4) scale(1.0500,1)" font-size="35" text-anchor="end" fill="#262626">1.0</text>
<text id="iy5" transform="translate(723.3,1142.8) scale(1.0500,1)" font-size="35" text-anchor="end" fill="#262626">0.5</text>
<text id="iy0" transform="translate(723.3,1191.2) scale(1.0500,1)" font-size="35" text-anchor="end" fill="#262626">0.0</text>
<text id="ix0" transform="translate(729.5,1225.8) scale(1.0700,1)" font-size="34" text-anchor="middle" fill="#262626">0</text>
<text id="ix10" transform="translate(812.7,1225.8) scale(1.0700,1)" font-size="34" text-anchor="middle" fill="#262626">10</text>
<text id="ix20" transform="translate(895.9,1225.8) scale(1.0700,1)" font-size="34" text-anchor="middle" fill="#262626">20</text>
<text id="ix30" transform="translate(979.1,1225.8) scale(1.0700,1)" font-size="34" text-anchor="middle" fill="#262626">30</text>
<text id="ix40" transform="translate(1062.3,1225.8) scale(1.0700,1)" font-size="34" text-anchor="middle" fill="#262626">40</text>
<text id="ix50" transform="translate(1145.5,1225.8) scale(1.0700,1)" font-size="34" text-anchor="middle" fill="#262626">50</text>
<text id="ititle" transform="translate(855.35,1272.66) scale(1.0166,1)" font-size="37.21" fill="#262626">Time  (min)</text>
<text id="iyt" transform="translate(649.75,1160.97) rotate(-90) scale(0.9020,1)" font-size="36.16" fill="#262626">V<tspan font-size="0.3em" fill="#aaa">H2</tspan> (mL)</text>
<path d="M1457,1349.4 L1460.17,1344.42 L1463.35,1339.45 L1466.52,1334.49 L1469.7,1329.54 L1472.87,1324.6 L1476.04,1319.68 L1479.22,1314.76 L1482.39,1309.86 L1485.56,1304.96 L1488.74,1300.08 L1491.91,1295.22 L1495.09,1290.37 L1498.26,1285.53 L1501.43,1280.7 L1504.61,1275.9 L1507.78,1271.1 L1510.95,1266.75 L1514.13,1263.07 L1517.3,1259.41 L1520.48,1255.76 L1523.65,1252.14 L1526.82,1248.53 L1530,1244.93 L1533.17,1241.36 L1536.34,1237.79 L1539.52,1234.25 L1542.69,1230.71 L1545.87,1227.19 L1549.04,1223.67 L1552.21,1220.16 L1555.39,1216.65 L1558.56,1213.13 L1561.73,1209.61 L1564.91,1205.7 L1568.08,1201.67 L1571.26,1197.64 L1574.43,1193.61 L1577.6,1189.57 L1580.78,1185.53 L1583.95,1181.49 L1587.12,1177.45 L1590.3,1173.42 L1593.47,1169.39 L1596.65,1165.37 L1599.82,1161.36 L1602.99,1157.37 L1606.17,1153.4 L1609.34,1149.44 L1612.52,1145.51 L1615.69,1141.77 L1618.86,1138.95 L1622.04,1136.14 L1625.21,1133.36 L1628.38,1130.59 L1631.56,1127.84 L1634.73,1125.1 L1637.91,1122.37 L1641.08,1119.65 L1644.25,1116.94 L1647.43,1114.22 L1650.6,1111.51 L1653.77,1108.79 L1656.95,1106.06 L1660.12,1103.32 L1663.3,1100.57 L1666.47,1097.81 L1669.64,1094.61 L1672.82,1091.05 L1675.99,1087.48 L1679.16,1083.89 L1682.34,1080.29 L1685.51,1076.67 L1688.69,1073.03 L1691.86,1069.38 L1695.03,1065.72 L1698.21,1062.05 L1701.38,1058.37 L1704.55,1054.68 L1707.73,1050.98 L1710.9,1047.27 L1714.08,1043.56 L1717.25,1039.84 L1720.42,1036.11 L1723.6,1032.24 L1726.77,1028.36 L1729.95,1024.49 L1733.12,1020.61 L1736.29,1016.74 L1739.47,1012.89 L1742.64,1009.04 L1745.81,1005.2 L1748.99,1001.37 L1752.16,997.55 L1755.34,993.74 L1758.51,989.95 L1761.68,986.16 L1764.86,982.39 L1768.03,978.62 L1771.2,974.87 L1774.38,971.33 L1777.55,968.22 L1780.73,965.12 L1783.9,962.03 L1787.07,958.94 L1790.25,955.86 L1793.42,952.79 L1796.59,949.72 L1799.77,946.66 L1802.94,943.6 L1806.12,940.55 L1809.29,937.5 L1812.46,934.46 L1815.64,931.42 L1818.81,928.39 L1821.98,925.36 L1825.16,922.34 L1828.33,919.31 L1831.51,916.3 L1834.68,913.29 L1837.85,910.28 L1841.03,907.27 L1844.2,904.27 L1847.37,901.28 L1850.55,898.28 L1853.72,895.29 L1856.9,892.31 L1860.07,889.33 L1863.24,886.35 L1866.42,883.38 L1869.59,880.41 L1872.77,877.44 L1875.94,874.48 L1879.11,871.52 L1882.29,868.57 L1885.46,865.62 L1888.63,862.67 L1891.81,859.73 L1894.98,856.8 L1898.16,853.86 L1901.33,850.93 L1904.5,848.01 L1907.68,845.09 L1910.85,842.17 L1914.02,839.26 L1917.2,836.35 L1920.37,833.45 L1923.55,830.55 L1926.72,827.66 L1929.89,824.77 L1933.07,822.18 L1936.24,819.89 L1939.41,817.59 L1942.59,815.31 L1945.76,813.03 L1948.94,810.75 L1952.11,808.48 L1955.28,806.22 L1958.46,803.96 L1961.63,801.7 L1964.8,799.45 L1967.98,797.21 L1971.15,794.97 L1974.33,792.74 L1977.5,790.51 L1980.67,788.29 L1983.85,786.07 L1987.02,783.86 L1990.19,781.66 L1993.37,779.46 L1996.54,777.26 L1999.72,775.07 L2002.89,772.89 L2006.06,770.71 L2009.24,768.54 L2012.41,766.37 L2015.59,764.21 L2018.76,762.05 L2021.93,759.9 L2025.11,757.75 L2028.28,755.61 L2031.45,753.48 L2034.63,751.34 L2037.8,749.22 L2040.98,747.09 L2044.15,744.98 L2047.32,742.87 L2050.5,740.76 L2053.67,738.65 L2056.84,736.56 L2060.02,734.46 L2063.19,732.37 L2066.37,730.29 L2069.54,728.21 L2072.71,726.13 L2075.89,724.06 L2079.06,721.99 L2082.23,719.92 L2085.41,717.86 L2088.58,715.81 L2091.76,714.12 L2094.93,712.61 L2098.1,711.11 L2101.28,709.61 L2104.45,708.11 L2107.62,706.62 L2110.8,705.13 L2113.97,703.64 L2117.15,702.16 L2120.32,700.68 L2123.49,699.21 L2126.67,697.74 L2129.84,696.27 L2133.01,694.81 L2136.19,693.35 L2139.36,691.9 L2142.54,690.44 L2145.71,689 L2148.88,687.55 L2152.06,686.11 L2155.23,684.67 L2158.41,683.24 L2161.58,681.81 L2164.75,680.39 L2167.93,678.96 L2171.1,677.54 L2174.27,676.13 L2177.45,674.71 L2180.62,673.3 L2183.8,671.9 L2186.97,670.49 L2190.14,669.09 L2193.32,667.69 L2196.49,666.3 L2199.66,664.9 L2202.84,663.51 L2206.01,662.13 L2209.19,660.74 L2212.36,659.36 L2215.53,657.98 L2218.71,656.6 L2221.88,655.23 L2225.05,653.86 L2228.23,652.49 L2231.4,651.12 L2234.58,649.75 L2237.75,648.39 L2240.92,647.03 L2244.1,645.67 L2247.27,644.31 L2250.44,643.16 L2253.62,642.06 L2256.79,640.96 L2259.97,639.86 L2263.14,638.76 L2266.31,637.67 L2269.49,636.57 L2272.66,635.48 L2275.84,634.39 L2279.01,633.3 L2282.18,632.21 L2285.36,631.13 L2288.53,630.04 L2291.7,628.96 L2294.88,627.88 L2298.05,626.8 L2301.23,625.72 L2304.4,624.64 L2307.57,623.57 L2310.75,622.49 L2313.92,621.42 L2317.09,620.35 L2320.27,619.27 L2323.44,618.2 L2326.62,617.14 L2329.79,616.07 L2332.96,615 L2336.14,613.94 L2339.31,612.87 L2342.48,611.81 L2345.66,610.75 L2348.83,609.69 L2352.01,608.63 L2355.18,607.57 L2358.35,606.51 L2361.53,605.45 L2364.7,604.39 L2367.87,603.34 L2371.05,602.28 L2374.22,601.23 L2377.4,600.18 L2380.57,599.12 L2383.74,598.07 L2386.92,597.02 L2390.09,595.97 L2393.26,594.92 L2396.44,593.88 L2399.61,592.83 L2402.79,591.78 L2405.96,590.74" fill="none" stroke="#1a34d0" stroke-width="4.4" stroke-linejoin="round"/>
<path d="M1457,1349.4 L1460.17,1342.58 L1463.35,1335.82 L1466.52,1329.13 L1469.7,1322.49 L1472.87,1315.93 L1476.04,1309.43 L1479.22,1303.01 L1482.39,1296.66 L1485.56,1290.39 L1488.74,1284.19 L1491.91,1278.08 L1495.09,1272.05 L1498.26,1266.11 L1501.43,1260.26 L1504.61,1254.51 L1507.78,1248.85 L1510.95,1243.29 L1514.13,1237.83 L1517.3,1232.47 L1520.48,1227.21 L1523.65,1222.05 L1526.82,1216.98 L1530,1211.99 L1533.17,1207.09 L1536.34,1202.27 L1539.52,1197.53 L1542.69,1192.85 L1545.87,1188.23 L1549.04,1183.67 L1552.21,1179.14 L1555.39,1174.65 L1558.56,1170.17 L1561.73,1165.7 L1564.91,1161.24 L1568.08,1156.8 L1571.26,1152.4 L1574.43,1148.03 L1577.6,1143.67 L1580.78,1139.35 L1583.95,1135.04 L1587.12,1130.74 L1590.3,1126.46 L1593.47,1122.19 L1596.65,1117.93 L1599.82,1113.67 L1602.99,1109.42 L1606.17,1105.16 L1609.34,1100.89 L1612.52,1096.61 L1615.69,1092.32 L1618.86,1088.02 L1622.04,1083.7 L1625.21,1079.38 L1628.38,1075.05 L1631.56,1070.71 L1634.73,1066.37 L1637.91,1062.04 L1641.08,1057.7 L1644.25,1053.37 L1647.43,1049.05 L1650.6,1044.74 L1653.77,1040.44 L1656.95,1036.15 L1660.12,1031.88 L1663.3,1027.63 L1666.47,1023.4 L1669.64,1019.19 L1672.82,1015 L1675.99,1010.83 L1679.16,1006.68 L1682.34,1002.55 L1685.51,998.43 L1688.69,994.32 L1691.86,990.22 L1695.03,986.13 L1698.21,982.04 L1701.38,977.96 L1704.55,973.89 L1707.73,969.82 L1710.9,965.75 L1714.08,961.68 L1717.25,957.6 L1720.42,953.52 L1723.6,949.44 L1726.77,945.34 L1729.95,941.25 L1733.12,937.16 L1736.29,933.07 L1739.47,929 L1742.64,924.95 L1745.81,920.92 L1748.99,916.92 L1752.16,912.93 L1755.34,908.98 L1758.51,905.05 L1761.68,901.16 L1764.86,897.3 L1768.03,893.47 L1771.2,889.68 L1774.38,885.93 L1777.55,882.2 L1780.73,878.49 L1783.9,874.8 L1787.07,871.13 L1790.25,867.47 L1793.42,863.84 L1796.59,860.22 L1799.77,856.61 L1802.94,853.02 L1806.12,849.44 L1809.29,845.87 L1812.46,842.32 L1815.64,838.78 L1818.81,835.24 L1821.98,831.72 L1825.16,828.21 L1828.33,824.7 L1831.51,821.21 L1834.68,817.72 L1837.85,814.24 L1841.03,810.77 L1844.2,807.3 L1847.37,803.84 L1850.55,800.39 L1853.72,796.94 L1856.9,793.5 L1860.07,790.06 L1863.24,786.62 L1866.42,783.19 L1869.59,779.77 L1872.77,776.35 L1875.94,772.93 L1879.11,769.51 L1882.29,766.1 L1885.46,762.69 L1888.63,759.28 L1891.81,755.87 L1894.98,752.46 L1898.16,749.06 L1901.33,745.65 L1904.5,742.25 L1907.68,738.84 L1910.85,735.44 L1914.02,732.03 L1917.2,728.63 L1920.37,725.22 L1923.55,721.81 L1926.72,718.4 L1929.89,714.99 L1933.07,711.57 L1936.24,708.15 L1939.41,704.73 L1942.59,701.3 L1945.76,697.87 L1948.94,694.43 L1952.11,691 L1955.28,687.56 L1958.46,684.13 L1961.63,680.69 L1964.8,677.26 L1967.98,673.83 L1971.15,670.4 L1974.33,666.98 L1977.5,663.56 L1980.67,660.15 L1983.85,656.74 L1987.02,653.34 L1990.19,649.94 L1993.37,646.56 L1996.54,643.18 L1999.72,639.81 L2002.89,636.45 L2006.06,633.1 L2009.24,629.76 L2012.41,626.43 L2015.59,623.12 L2018.76,619.81 L2021.93,616.52 L2025.11,613.25 L2028.28,609.98 L2031.45,606.74 L2034.63,603.51 L2037.8,600.29 L2040.98,597.09 L2044.15,593.91 L2047.32,590.74 L2050.5,587.6 L2053.67,584.47 L2056.84,581.36 L2060.02,578.27 L2063.19,575.2 L2066.37,572.15 L2069.54,569.12 L2072.71,566.11 L2075.89,563.12 L2079.06,560.16 L2082.23,557.22 L2085.41,554.3 L2088.58,551.4 L2091.76,548.53 L2094.93,545.66 L2098.1,542.8 L2101.28,539.94 L2104.45,537.09 L2107.62,534.26 L2110.8,531.43 L2113.97,528.61 L2117.15,525.81 L2120.32,523.02 L2123.49,520.24 L2126.67,517.48 L2129.84,514.73 L2133.01,512.01 L2136.19,509.3 L2139.36,506.61 L2142.54,503.94 L2145.71,501.29 L2148.88,498.66 L2152.06,496.05 L2155.23,493.47 L2158.41,490.91 L2161.58,488.37 L2164.75,485.86 L2167.93,483.37 L2171.1,480.91 L2174.27,478.47 L2177.45,476.06 L2180.62,473.68 L2183.8,471.32 L2186.97,468.99 L2190.14,466.69 L2193.32,464.42 L2196.49,462.17 L2199.66,459.95 L2202.84,457.77 L2206.01,455.61 L2209.19,453.48 L2212.36,451.39 L2215.53,449.32 L2218.71,447.28 L2221.88,445.28 L2225.05,443.3 L2228.23,441.36 L2231.4,439.45 L2234.58,437.58 L2237.75,435.73 L2240.92,433.92 L2244.1,432.15 L2247.27,430.4 L2250.44,428.69 L2253.62,426.99 L2256.79,425.3 L2259.97,423.63 L2263.14,421.97 L2266.31,420.32 L2269.49,418.7 L2272.66,417.08 L2275.84,415.48 L2279.01,413.9 L2282.18,412.33 L2285.36,410.77 L2288.53,409.23 L2291.7,407.71 L2294.88,406.2 L2298.05,404.71 L2301.23,403.23 L2304.4,401.76 L2307.57,400.32 L2310.75,398.88 L2313.92,397.47 L2317.09,396.07 L2320.27,394.68 L2323.44,393.32 L2326.62,391.96 L2329.79,390.63 L2332.96,389.31 L2336.14,388.01 L2339.31,386.72 L2342.48,385.45 L2345.66,384.2 L2348.83,382.96 L2352.01,381.74 L2355.18,380.54 L2358.35,379.36 L2361.53,378.19 L2364.7,377.04 L2367.87,375.91 L2371.05,374.8 L2374.22,373.7 L2377.4,372.63 L2380.57,371.57 L2383.74,370.53 L2386.92,369.51 L2390.09,368.51 L2393.26,367.52 L2396.44,366.56 L2399.61,365.61 L2402.79,364.69 L2405.96,363.78" fill="none" stroke="#a82012" stroke-width="4.4" stroke-linejoin="round"/>
<path d="M1457,1349.4 L1460.17,1340.74 L1463.35,1332.12 L1466.52,1323.54 L1469.7,1315 L1472.87,1306.51 L1476.04,1298.06 L1479.22,1289.65 L1482.39,1281.3 L1485.56,1272.99 L1488.74,1264.74 L1491.91,1256.54 L1495.09,1248.4 L1498.26,1240.31 L1501.43,1232.28 L1504.61,1224.31 L1507.78,1216.41 L1510.95,1208.57 L1514.13,1200.79 L1517.3,1193.08 L1520.48,1185.44 L1523.65,1177.86 L1526.82,1170.35 L1530,1162.91 L1533.17,1155.54 L1536.34,1148.22 L1539.52,1140.96 L1542.69,1133.74 L1545.87,1126.57 L1549.04,1119.42 L1552.21,1112.28 L1555.39,1105.14 L1558.56,1097.96 L1561.73,1090.75 L1564.91,1083.5 L1568.08,1076.22 L1571.26,1068.91 L1574.43,1061.59 L1577.6,1054.26 L1580.78,1046.93 L1583.95,1039.63 L1587.12,1032.35 L1590.3,1025.12 L1593.47,1017.95 L1596.65,1010.86 L1599.82,1003.86 L1602.99,996.96 L1606.17,990.2 L1609.34,983.57 L1612.52,977.11 L1615.69,970.82 L1618.86,964.71 L1622.04,958.77 L1625.21,953 L1628.38,947.37 L1631.56,941.88 L1634.73,936.52 L1637.91,931.27 L1641.08,926.12 L1644.25,921.07 L1647.43,916.09 L1650.6,911.19 L1653.77,906.33 L1656.95,901.52 L1660.12,896.75 L1663.3,891.99 L1666.47,887.25 L1669.64,882.5 L1672.82,877.74 L1675.99,872.98 L1679.16,868.22 L1682.34,863.44 L1685.51,858.67 L1688.69,853.89 L1691.86,849.11 L1695.03,844.33 L1698.21,839.55 L1701.38,834.77 L1704.55,830 L1707.73,825.23 L1710.9,820.46 L1714.08,815.69 L1717.25,810.93 L1720.42,806.18 L1723.6,801.44 L1726.77,796.7 L1729.95,791.98 L1733.12,787.26 L1736.29,782.55 L1739.47,777.85 L1742.64,773.16 L1745.81,768.48 L1748.99,763.81 L1752.16,759.14 L1755.34,754.48 L1758.51,749.82 L1761.68,745.17 L1764.86,740.53 L1768.03,735.89 L1771.2,731.25 L1774.38,726.62 L1777.55,721.99 L1780.73,717.36 L1783.9,712.73 L1787.07,708.11 L1790.25,703.49 L1793.42,698.87 L1796.59,694.26 L1799.77,689.65 L1802.94,685.05 L1806.12,680.45 L1809.29,675.86 L1812.46,671.28 L1815.64,666.72 L1818.81,662.16 L1821.98,657.62 L1825.16,653.08 L1828.33,648.57 L1831.51,644.06 L1834.68,639.57 L1837.85,635.09 L1841.03,630.63 L1844.2,626.19 L1847.37,621.76 L1850.55,617.35 L1853.72,612.95 L1856.9,608.58 L1860.07,604.22 L1863.24,599.88 L1866.42,595.56 L1869.59,591.26 L1872.77,586.98 L1875.94,582.72 L1879.11,578.48 L1882.29,574.26 L1885.46,570.07 L1888.63,565.9 L1891.81,561.75 L1894.98,557.63 L1898.16,553.53 L1901.33,549.45 L1904.5,545.4 L1907.68,541.38 L1910.85,537.38 L1914.02,533.41 L1917.2,529.47 L1920.37,525.56 L1923.55,521.68 L1926.72,517.83 L1929.89,514.01 L1933.07,510.22 L1936.24,506.47 L1939.41,502.74 L1942.59,499.05 L1945.76,495.39 L1948.94,491.76 L1952.11,488.16 L1955.28,484.59 L1958.46,481.04 L1961.63,477.53 L1964.8,474.05 L1967.98,470.59 L1971.15,467.16 L1974.33,463.75 L1977.5,460.38 L1980.67,457.02 L1983.85,453.69 L1987.02,450.39 L1990.19,447.11 L1993.37,443.85 L1996.54,440.61 L1999.72,437.4 L2002.89,434.2 L2006.06,431.03 L2009.24,427.87 L2012.41,424.73 L2015.59,421.62 L2018.76,418.51 L2021.93,415.43 L2025.11,412.36 L2028.28,409.31 L2031.45,406.27 L2034.63,403.25 L2037.8,400.24 L2040.98,397.24 L2044.15,394.26 L2047.32,391.28 L2050.5,388.32 L2053.67,385.37 L2056.84,382.43 L2060.02,379.5 L2063.19,376.58 L2066.37,373.67 L2069.54,370.77 L2072.71,367.87 L2075.89,364.98 L2079.06,362.1 L2082.23,359.22 L2085.41,356.36 L2088.58,353.49 L2091.76,350.63 L2094.93,347.78 L2098.1,344.93 L2101.28,342.09 L2104.45,339.24 L2107.62,336.41 L2110.8,333.58 L2113.97,330.75 L2117.15,327.93 L2120.32,325.13 L2123.49,322.33 L2126.67,319.54 L2129.84,316.77 L2133.01,314.01 L2136.19,311.26 L2139.36,308.53 L2142.54,305.81 L2145.71,303.11 L2148.88,300.42 L2152.06,297.75 L2155.23,295.1 L2158.41,292.47 L2161.58,289.85 L2164.75,287.25 L2167.93,284.67 L2171.1,282.11 L2174.27,279.56 L2177.45,277.04 L2180.62,274.53 L2183.8,272.04 L2186.97,269.57 L2190.14,267.12 L2193.32,264.69 L2196.49,262.27 L2199.66,259.87 L2202.84,257.5 L2206.01,255.14 L2209.19,252.8 L2212.36,250.47 L2215.53,248.17 L2218.71,245.88 L2221.88,243.61 L2225.05,241.35 L2228.23,239.12 L2231.4,236.9 L2234.58,234.69 L2237.75,232.51 L2240.92,230.34 L2244.1,228.18 L2247.27,226.04 L2250.44,223.92 L2253.62,221.82 L2256.79,219.72 L2259.97,217.65 L2263.14,215.59 L2266.31,213.54 L2269.49,211.51 L2272.66,209.49 L2275.84,207.49 L2279.01,205.5 L2282.18,203.52 L2285.36,201.56 L2288.53,199.61 L2291.7,197.68 L2294.88,195.75 L2298.05,193.84 L2301.23,191.95 L2304.4,190.06 L2307.57,188.19 L2310.75,186.33 L2313.92,184.48 L2317.09,182.64 L2320.27,180.82 L2323.44,179.01 L2326.62,177.2 L2329.79,175.41 L2332.96,173.63 L2336.14,171.86 L2339.31,170.1 L2342.48,168.36 L2345.66,166.62 L2348.83,164.89 L2352.01,163.17 L2355.18,161.47 L2358.35,159.77 L2361.53,158.08 L2364.7,156.4 L2367.87,154.73 L2371.05,153.07 L2374.22,151.42 L2377.4,149.78 L2380.57,148.15 L2383.74,146.52 L2386.92,144.91 L2390.09,143.3 L2393.26,141.71 L2396.44,140.12 L2399.61,138.53 L2402.79,136.96 L2405.96,135.4" fill="none" stroke="#000" stroke-width="4.9" stroke-linejoin="round"/>
<polygon points="1498.22,1275.61 1521.22,1275.61 1509.72,1255.61" fill="#1e44f0"/>
<polygon points="1550.94,1218.51 1573.94,1218.51 1562.44,1198.51" fill="#1e44f0"/>
<polygon points="1603.66,1150 1626.66,1150 1615.16,1130" fill="#1e44f0"/>
<polygon points="1656.38,1106.46 1679.38,1106.46 1667.88,1086.46" fill="#1e44f0"/>
<polygon points="1709.1,1045.09 1732.1,1045.09 1720.6,1025.09" fill="#1e44f0"/>
<polygon points="1761.82,980.14 1784.82,980.14 1773.32,960.14" fill="#1e44f0"/>
<polygon points="1919.98,830.26 1942.98,830.26 1931.48,810.26" fill="#1e44f0"/>
<polygon points="2078.14,721.78 2101.14,721.78 2089.64,701.78" fill="#1e44f0"/>
<polygon points="2236.3,651.84 2259.3,651.84 2247.8,631.84" fill="#1e44f0"/>
<polygon points="2394.46,599.74 2417.46,599.74 2405.96,579.74" fill="#1e44f0"/>
<rect x="1500.52" y="1232.43" width="18.4" height="18.4" fill="#e0301a" stroke="#a01c0a" stroke-width="1.6"/>
<rect x="1553.24" y="1154.64" width="18.4" height="18.4" fill="#e0301a" stroke="#a01c0a" stroke-width="1.6"/>
<rect x="1605.96" y="1083.98" width="18.4" height="18.4" fill="#e0301a" stroke="#a01c0a" stroke-width="1.6"/>
<rect x="1658.68" y="1011.9" width="18.4" height="18.4" fill="#e0301a" stroke="#a01c0a" stroke-width="1.6"/>
<rect x="1711.4" y="944.1" width="18.4" height="18.4" fill="#e0301a" stroke="#a01c0a" stroke-width="1.6"/>
<rect x="1764.12" y="876.3" width="18.4" height="18.4" fill="#e0301a" stroke="#a01c0a" stroke-width="1.6"/>
<rect x="1922.28" y="703.58" width="18.4" height="18.4" fill="#e0301a" stroke="#a01c0a" stroke-width="1.6"/>
<rect x="2080.44" y="535.86" width="18.4" height="18.4" fill="#e0301a" stroke="#a01c0a" stroke-width="1.6"/>
<rect x="2238.6" y="412.39" width="18.4" height="18.4" fill="#e0301a" stroke="#a01c0a" stroke-width="1.6"/>
<rect x="2396.76" y="354.58" width="18.4" height="18.4" fill="#e0301a" stroke="#a01c0a" stroke-width="1.6"/>
<circle cx="1509.72" cy="1205.23" r="10.2" fill="#000"/>
<circle cx="1562.44" cy="1092.47" r="10.2" fill="#000"/>
<circle cx="1615.16" cy="963.29" r="10.2" fill="#000"/>
<circle cx="1667.88" cy="885.5" r="10.2" fill="#000"/>
<circle cx="1720.6" cy="805.56" r="10.2" fill="#000"/>
<circle cx="1773.32" cy="727.77" r="10.2" fill="#000"/>
<circle cx="1931.48" cy="498.67" r="10.2" fill="#000"/>
<circle cx="2089.64" cy="350.22" r="10.2" fill="#000"/>
<circle cx="2247.8" cy="213.19" r="10.2" fill="#000"/>
<circle cx="2405.96" cy="135.4" r="10.2" fill="#000"/>
<rect x="1457" y="64.74" width="989.5" height="1284.66" fill="none" stroke="#000" stroke-width="5"/>
<line x1="1437" y1="1349.4" x2="1457" y2="1349.4" stroke="#000" stroke-width="5"/>
<line x1="1446.5" y1="1278.03" x2="1457" y2="1278.03" stroke="#000" stroke-width="4.5"/>
<line x1="1446.5" y1="1206.66" x2="1457" y2="1206.66" stroke="#000" stroke-width="4.5"/>
<line x1="1437" y1="1135.29" x2="1457" y2="1135.29" stroke="#000" stroke-width="5"/>
<line x1="1446.5" y1="1063.92" x2="1457" y2="1063.92" stroke="#000" stroke-width="4.5"/>
<line x1="1446.5" y1="992.55" x2="1457" y2="992.55" stroke="#000" stroke-width="4.5"/>
<line x1="1437" y1="921.18" x2="1457" y2="921.18" stroke="#000" stroke-width="5"/>
<line x1="1446.5" y1="849.81" x2="1457" y2="849.81" stroke="#000" stroke-width="4.5"/>
<line x1="1446.5" y1="778.44" x2="1457" y2="778.44" stroke="#000" stroke-width="4.5"/>
<line x1="1437" y1="707.07" x2="1457" y2="707.07" stroke="#000" stroke-width="5"/>
<line x1="1446.5" y1="635.7" x2="1457" y2="635.7" stroke="#000" stroke-width="4.5"/>
<line x1="1446.5" y1="564.33" x2="1457" y2="564.33" stroke="#000" stroke-width="4.5"/>
<line x1="1437" y1="492.96" x2="1457" y2="492.96" stroke="#000" stroke-width="5"/>
<line x1="1446.5" y1="421.59" x2="1457" y2="421.59" stroke="#000" stroke-width="4.5"/>
<line x1="1446.5" y1="350.22" x2="1457" y2="350.22" stroke="#000" stroke-width="4.5"/>
<line x1="1437" y1="278.85" x2="1457" y2="278.85" stroke="#000" stroke-width="5"/>
<line x1="1446.5" y1="207.48" x2="1457" y2="207.48" stroke="#000" stroke-width="4.5"/>
<line x1="1446.5" y1="136.11" x2="1457" y2="136.11" stroke="#000" stroke-width="4.5"/>
<line x1="1437" y1="64.74" x2="1457" y2="64.74" stroke="#000" stroke-width="5"/>
<line x1="1457" y1="1349.4" x2="1457" y2="1370.5" stroke="#000" stroke-width="5"/>
<line x1="1509.72" y1="1349.4" x2="1509.72" y2="1362" stroke="#000" stroke-width="4.5"/>
<line x1="1562.44" y1="1349.4" x2="1562.44" y2="1362" stroke="#000" stroke-width="4.5"/>
<line x1="1615.16" y1="1349.4" x2="1615.16" y2="1370.5" stroke="#000" stroke-width="5"/>
<line x1="1667.88" y1="1349.4" x2="1667.88" y2="1362" stroke="#000" stroke-width="4.5"/>
<line x1="1720.6" y1="1349.4" x2="1720.6" y2="1362" stroke="#000" stroke-width="4.5"/>
<line x1="1773.32" y1="1349.4" x2="1773.32" y2="1370.5" stroke="#000" stroke-width="5"/>
<line x1="1826.04" y1="1349.4" x2="1826.04" y2="1362" stroke="#000" stroke-width="4.5"/>
<line x1="1878.76" y1="1349.4" x2="1878.76" y2="1362" stroke="#000" stroke-width="4.5"/>
<line x1="1931.48" y1="1349.4" x2="1931.48" y2="1370.5" stroke="#000" stroke-width="5"/>
<line x1="1984.2" y1="1349.4" x2="1984.2" y2="1362" stroke="#000" stroke-width="4.5"/>
<line x1="2036.92" y1="1349.4" x2="2036.92" y2="1362" stroke="#000" stroke-width="4.5"/>
<line x1="2089.64" y1="1349.4" x2="2089.64" y2="1370.5" stroke="#000" stroke-width="5"/>
<line x1="2142.36" y1="1349.4" x2="2142.36" y2="1362" stroke="#000" stroke-width="4.5"/>
<line x1="2195.08" y1="1349.4" x2="2195.08" y2="1362" stroke="#000" stroke-width="4.5"/>
<line x1="2247.8" y1="1349.4" x2="2247.8" y2="1370.5" stroke="#000" stroke-width="5"/>
<line x1="2300.52" y1="1349.4" x2="2300.52" y2="1362" stroke="#000" stroke-width="4.5"/>
<line x1="2353.24" y1="1349.4" x2="2353.24" y2="1362" stroke="#000" stroke-width="4.5"/>
<line x1="2405.96" y1="1349.4" x2="2405.96" y2="1370.5" stroke="#000" stroke-width="5"/>
<text id="by0" transform="translate(1425.61,1364) scale(0.9031,1)" font-size="51.3" text-anchor="end">0</text>
<text id="by30" transform="translate(1425.65,1149.67) scale(0.9230,1)" font-size="51.3" text-anchor="end">30</text>
<text id="by60" transform="translate(1425.66,935.34) scale(0.9216,1)" font-size="51.3" text-anchor="end">60</text>
<text id="by90" transform="translate(1425.66,722) scale(0.9216,1)" font-size="51.3" text-anchor="end">90</text>
<text id="by120" transform="translate(1425.7,507.67) scale(0.9413,1)" font-size="51.3" text-anchor="end">120</text>
<text id="by150" transform="translate(1425.7,293.36) scale(0.9413,1)" font-size="51.3" text-anchor="end">150</text>
<text id="by180" transform="translate(1425.7,79.03) scale(0.9413,1)" font-size="51.3" text-anchor="end">180</text>
<text id="bx0" transform="translate(1457.5,1421) scale(1.0526,1)" font-size="51.57" text-anchor="middle">0</text>
<text id="bx30" transform="translate(1615.98,1421) scale(1.0091,1)" font-size="51.57" text-anchor="middle">30</text>
<text id="bx60" transform="translate(1773.46,1421) scale(1.0089,1)" font-size="51.57" text-anchor="middle">60</text>
<text id="bx90" transform="translate(1931.94,1421) scale(1.0089,1)" font-size="51.57" text-anchor="middle">90</text>
<text id="bx120" transform="translate(2089.01,1421) scale(0.9250,1)" font-size="51.57" text-anchor="middle">120</text>
<text id="bx150" transform="translate(2247.47,1421) scale(0.9250,1)" font-size="51.57" text-anchor="middle">150</text>
<text id="bx180" transform="translate(2405.47,1421) scale(0.9390,1)" font-size="51.57" text-anchor="middle">180</text>
<text id="btitle" transform="translate(1813.19,1504.99) scale(0.9889,1)" font-size="59.13">Time (min)</text>
<text id="byt" transform="translate(1306.38,865.26) rotate(-90) scale(1.0710,1)" font-size="55.1"><tspan font-style="italic">V</tspan><tspan font-size="0.72em">H</tspan><tspan font-size="0.4em">2</tspan> (mL)</text>
<text id="blab" transform="translate(1254.49,75) scale(0.9687,1)" font-size="60.02" font-weight="bold">(b)</text>
<text id="blh" transform="translate(1529.96,154.6) scale(1.0348,1)" font-size="53.52">Janus Au<tspan font-size="0.55em" font-style="italic">d</tspan><tspan fill="#555" dy="2">–</tspan><tspan dy="-2">TiO</tspan><tspan font-size="0.45em" fill="#333">2</tspan>:</text>
<line x1="1563.7" y1="205.2" x2="1600.1" y2="205.2" stroke="#000" stroke-width="5.5"/>
<line x1="1633.8" y1="205.2" x2="1670.2" y2="205.2" stroke="#000" stroke-width="5.5"/>
<circle cx="1616.5" cy="205.2" r="11" fill="#000"/>
<text id="bl0" transform="translate(1684.52,220.19) scale(1.0258,1)" font-size="51.71"><tspan font-style="italic">d</tspan> <tspan dy="6">=</tspan><tspan dy="-6"> 70 nm</tspan></text>
<line x1="1563.7" y1="271.1" x2="1600.1" y2="271.1" stroke="#a82a1c" stroke-width="5.5"/>
<line x1="1633.8" y1="271.1" x2="1670.2" y2="271.1" stroke="#a82a1c" stroke-width="5.5"/>
<rect x="1606.3" y="260.9" width="20.4" height="20.4" fill="#e0301a" stroke="#a01c0a" stroke-width="1.6"/>
<text id="bl1" transform="translate(1684.52,286.23) scale(1.0364,1)" font-size="51.19"><tspan font-style="italic">d</tspan> <tspan dy="6">=</tspan><tspan dy="-6"> 50 nm</tspan></text>
<line x1="1563.7" y1="336.7" x2="1600.1" y2="336.7" stroke="#2034c0" stroke-width="5.5"/>
<line x1="1633.8" y1="336.7" x2="1670.2" y2="336.7" stroke="#2034c0" stroke-width="5.5"/>
<polygon points="1603.5,346.2 1629.5,346.2 1616.5,323.2" fill="#1e44f0"/>
<text id="bl2" transform="translate(1684.52,353.2) scale(1.0305,1)" font-size="51.48"><tspan font-style="italic">d</tspan> <tspan dy="6">=</tspan><tspan dy="-6"> 30 nm</tspan></text>
</svg>
</body></html>
